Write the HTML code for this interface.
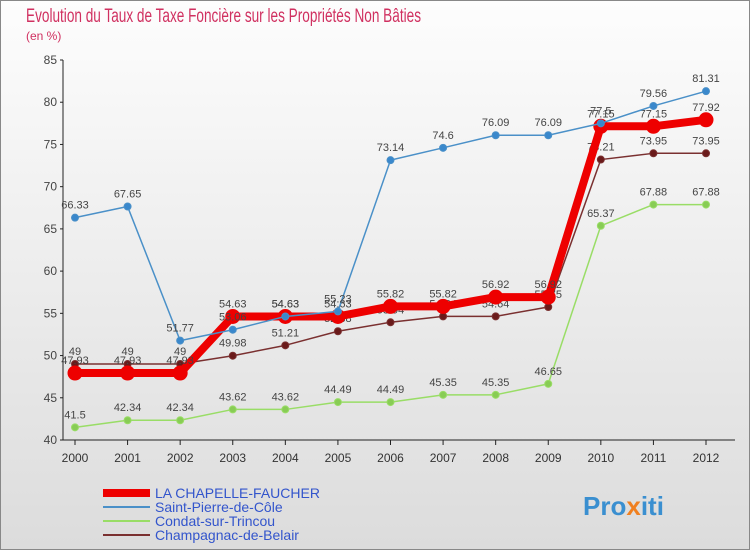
<!DOCTYPE html>
<html><head><meta charset="utf-8"><style>
body{margin:0;width:750px;height:550px;overflow:hidden;font-family:"Liberation Sans",sans-serif}
</style></head><body>
<svg width="750" height="550" xmlns="http://www.w3.org/2000/svg">
<defs>
<linearGradient id="bg" x1="0" y1="0" x2="0" y2="1"><stop offset="0" stop-color="#fdfdfd"/><stop offset="1" stop-color="#dcdcdc"/></linearGradient>
</defs>
<rect x="0.5" y="0.5" width="749" height="549" fill="url(#bg)" stroke="#888"/>
<text x="26" y="22" font-size="19" fill="#d03060" textLength="395" lengthAdjust="spacingAndGlyphs">Evolution du Taux de Taxe Foncière sur les Propriétés Non Bâties</text>
<text x="26" y="40" font-size="12" fill="#d03060">(en %)</text>
<g id="axes"></g>
<g id="series"></g>
<g id="legend"></g>
<text x="583" y="515" font-size="26" font-weight="bold" fill="#3a8fd0">Pro<tspan fill="#f08020">x</tspan>iti</text>
</svg>
<script>
const years=[2000,2001,2002,2003,2004,2005,2006,2007,2008,2009,2010,2011,2012];
const yTicks=[40,45,50,55,60,65,70,75,80,85];
const sChapelle=[47.93,47.93,47.93,54.63,54.63,54.63,55.82,55.82,56.92,56.92,77.15,77.15,77.92];
const sStPierre=[66.33,67.65,51.77,53.06,54.63,55.23,73.14,74.6,76.09,76.09,77.5,79.56,81.31];
const sCondat=[41.5,42.34,42.34,43.62,43.62,44.49,44.49,45.35,45.35,46.65,65.37,67.88,67.88];
const sChamp=[49,49,49,49.98,51.21,52.88,53.94,54.64,54.64,55.75,73.21,73.95,73.95];
const names=["LA CHAPELLE-FAUCHER","Saint-Pierre-de-Côle","Condat-sur-Trincou","Champagnac-de-Belair"];
const NS="http://www.w3.org/2000/svg";
const X=i=>75+i*(706-75)/12;
const Y=v=>440-(v-40)*380/45;
function mk(t,a,p){const e=document.createElementNS(NS,t);for(const k in a)e.setAttribute(k,a[k]);p.appendChild(e);return e;}
const ax=document.getElementById('axes');
const l1=mk('line',{x1:63,y1:60,x2:63,y2:440,stroke:'#222'},ax);


const l2=mk('line',{x1:63,y1:440,x2:735,y2:440,stroke:'#222'},ax);


yTicks.forEach(v=>{
 mk('line',{x1:60,y1:Y(v),x2:63,y2:Y(v),stroke:'#222'},ax);
 const t=mk('text',{x:57,y:Y(v)+4,'font-size':12,fill:'#444','text-anchor':'end'},ax);t.textContent=v;
 
 
});
years.forEach((y,i)=>{
 mk('line',{x1:X(i),y1:440,x2:X(i),y2:445,stroke:'#222'},ax);
 const t=mk('text',{x:X(i),y:462,'font-size':12,fill:'#333','text-anchor':'middle'},ax);t.textContent=y;
 
 
});
const sr=document.getElementById('series');
function draw(data,col,w,r,dot,name){
 const g=mk('g',{},sr);
 
 
 mk('polyline',{points:data.map((v,i)=>X(i)+','+Y(v)).join(' '),fill:'none',stroke:col,'stroke-width':w,'stroke-linejoin':'round'},g);
 data.forEach((v,i)=>{
  const c=mk('circle',{cx:X(i),cy:Y(v),r:r,fill:dot,stroke:col,'stroke-width':1},g);
  
  
  const t=mk('text',{x:X(i),y:Y(v)-9,'font-size':11,fill:'#444','text-anchor':'middle'},g);t.textContent=v;
  
  
 });
}
draw(sCondat,'#99dd66',1.5,3.5,'#88cc55','series-condat');
draw(sChamp,'#7a3030',1.5,3.5,'#6a1a1a','series-champagnac');
draw(sChapelle,'#ee0000',8,7,'#ee0000','series-la-chapelle');
draw(sStPierre,'#4a90c8',1.5,3.5,'#3a88cc','series-saint-pierre');
const lg=document.getElementById('legend');
const cols=['#ee0000','#4a90c8','#99dd66','#7a3030'],ws=[8,2,2,2];
names.forEach((n,i)=>{
 const y=493+i*14;
 const g=mk('g',{},lg);
 
 
 mk('line',{x1:103,y1:y,x2:150,y2:y,stroke:cols[i],'stroke-width':ws[i]},g);
 const t=mk('text',{x:155,y:y+5,'font-size':14,fill:'#3355cc'},g);t.textContent=n;
});
</script>
</body></html>
